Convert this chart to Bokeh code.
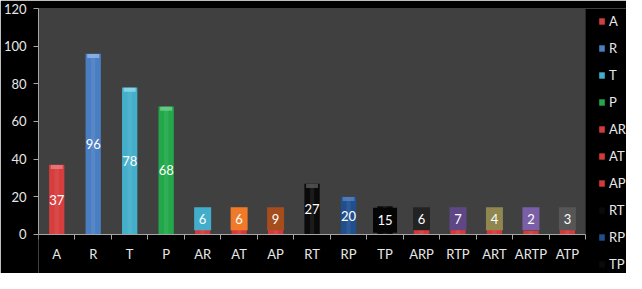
from bokeh.plotting import figure
from bokeh.models import (ColumnDataSource, FixedTicker, Legend, LegendItem, Range1d,
                          BoxAnnotation)
from bokeh.core.properties import value
from bokeh.embed import file_html
from bokeh.resources import INLINE

categories = ["A", "R", "T", "P", "AR", "AT", "AP", "RT", "RP", "TP",
              "ARP", "RTP", "ART", "ARTP", "ATP"]
counts = [37, 96, 78, 68, 6, 6, 9, 27, 20, 15, 6, 7, 4, 2, 3]
bar_colors = ["#d63d3d", "#4a7ec2", "#44afcb", "#22a84a", "#d43a3a", "#d43a3a",
              "#d43a3a", "#0a0a0a", "#1f4f8f", "#0a0a0a", "#d43a3a", "#d43a3a",
              "#d43a3a", "#d43a3a", "#d43a3a"]
cap_colors = ["#ec8080", "#94b8ea", "#93dbec", "#72d08e", None, None, None,
              "#5a5a5a", "#5a82c0", None, None, None, None, None, None]
# data-label background boxes (None = label drawn straight on the bar)
label_box_colors = [None, None, None, None, "#42aecb", "#f07a28", "#a54d1d", None,
                    None, "#050505", "#232323", "#5f4785", "#8f8650", "#7a5ea6",
                    "#565656"]
y_ticks = [0, 20, 40, 60, 80, 100, 120]
legend_count = 10  # legend is cut off after TP

n = len(categories)
xs = list(range(1, n + 1))
label_y = []
for v, bc in zip(counts, label_box_colors):
    if bc is None or v >= 15:
        label_y.append(v / 2)
    else:
        label_y.append(8.4)

FONT = "Lato"

# frame covers the whole figure except the left axis panel and a top strip;
# the plotting area (grey) is limited to x 0.5..15.5, y 0..120
p = figure(width=626, height=273, output_backend="svg", toolbar_location=None,
           x_range=Range1d(0.5, 16.62), y_range=Range1d(-20.71, 120),
           min_border_left=36, min_border_right=0, min_border_top=8,
           min_border_bottom=0)
p.background_fill_color = "#000000"
p.border_fill_color = "#000000"
p.outline_line_color = None
p.xgrid.visible = False
p.ygrid.visible = False

p.add_layout(BoxAnnotation(left=0.5, right=n + 0.5, bottom=0, top=120,
                           fill_color="#404040", fill_alpha=1, line_color=None,
                           level="underlay"))

src = ColumnDataSource(dict(x=xs, top=counts, color=bar_colors, cat=categories))
bars = p.vbar(x="x", top="top", width=0.42, fill_color="color", line_color=None,
              source=src)
# subtle highlight for a cylinder look
p.vbar(x="x", top="top", width=0.12, fill_color="#ffffff", fill_alpha=0.07,
       line_color=None, source=src)

# lighter cap at the top of the visible bars
cx, cy, cc = [], [], []
for x, v, c in zip(xs, counts, cap_colors):
    if c is not None:
        cx.append(x)
        cy.append(v - 1.2)
        cc.append(c)
p.rect(x=cx, y=cy, width=12, height=4, width_units="screen",
       height_units="screen", fill_color=cc, fill_alpha=0.8, line_color=None)

bx, by, bcol, bw = [], [], [], []
for x, y, c, v in zip(xs, label_y, label_box_colors, counts):
    if c is not None:
        bx.append(x)
        by.append(y)
        bcol.append(c)
        bw.append(24 if v >= 10 else 17)
p.rect(x=bx, y=by, width=bw, height=[23 if w == 17 else 25 for w in bw],
       width_units="screen", height_units="screen", fill_color=bcol,
       line_color=None)

p.text(x=xs, y=label_y, text=[str(v) for v in counts], text_align="center",
       text_baseline="middle", text_color="#ffffff", text_font=value(FONT),
       text_font_size="13px")

# axes
ax = p.xaxis[0]
ax.fixed_location = 0
ax.bounds = (0.5, n + 0.5)
ax.ticker = FixedTicker(ticks=xs, minor_ticks=[i + 0.5 for i in range(0, n + 1)])
ax.major_label_overrides = {x: c for x, c in zip(xs, categories)}
ax.major_tick_out = 0
ax.major_tick_in = 0
ax.minor_tick_out = 5
ax.minor_tick_in = 0
ax.minor_tick_line_color = "#a6a6a6"
ax.axis_line_color = "#a6a6a6"
ax.major_label_standoff = 7
ax.major_label_text_color = "#e8e8e8"
ax.major_label_text_font = FONT
ax.major_label_text_font_size = "13px"

ay = p.yaxis[0]
ay.bounds = (0, 120)
ay.ticker = FixedTicker(ticks=y_ticks)
ay.major_tick_out = 5
ay.major_tick_in = 0
ay.minor_tick_line_color = None
ay.major_tick_line_color = "#a6a6a6"
ay.axis_line_color = "#a6a6a6"
ay.major_label_standoff = 7
ay.major_label_text_color = "#e8e8e8"
ay.major_label_text_font = FONT
ay.major_label_text_font_size = "13px"

items = [LegendItem(label=categories[i], renderers=[bars], index=i)
         for i in range(legend_count)]
legend = Legend(items=items, location=(560, 1), orientation="vertical",
                glyph_width=7, glyph_height=8, label_height=16, spacing=11,
                padding=0, margin=0, label_standoff=4,
                background_fill_alpha=0, border_line_color=None,
                label_text_color="#e8e8e8", label_text_font=FONT,
                label_text_font_size="13px")
p.add_layout(legend, "center")

open("out.html", "w").write(file_html(p, INLINE))
